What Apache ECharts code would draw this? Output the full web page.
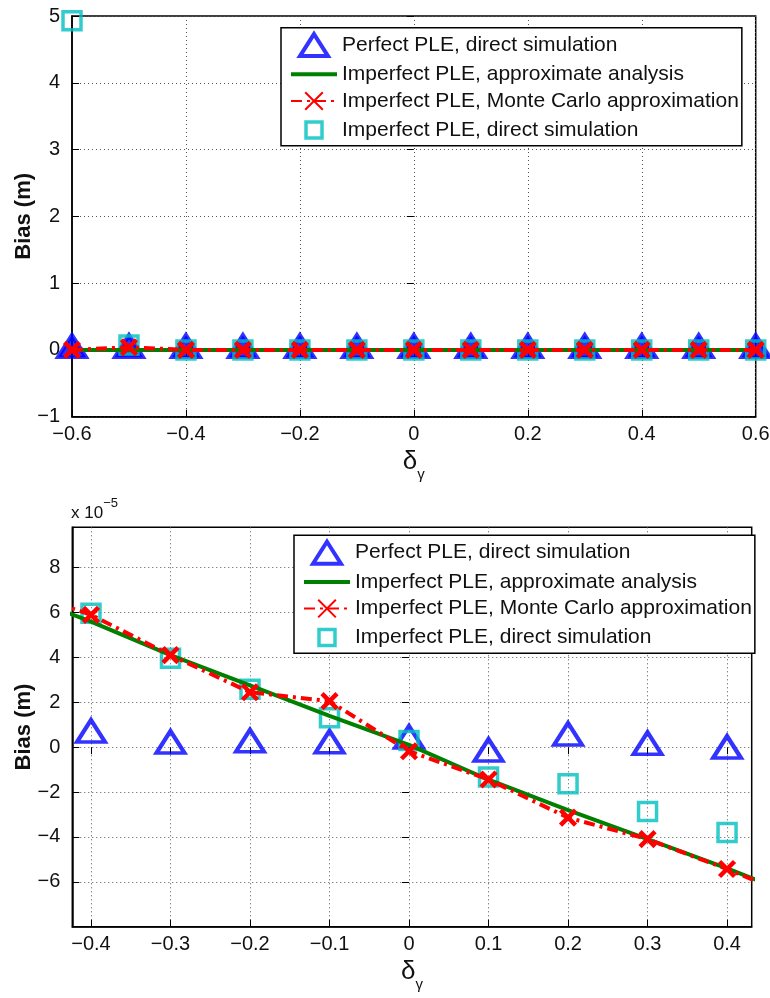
<!DOCTYPE html>
<html><head><meta charset="utf-8">
<script src="https://cdn.jsdelivr.net/npm/echarts@6/dist/echarts.min.js"></script>
<style>html,body{margin:0;padding:0;background:#fff}#c{width:770px;height:998px}</style>
</head><body><div id="c"></div>
<script>
// ---------- shared ----------
const seriesNames = [
  'Perfect PLE, direct simulation',
  'Imperfect PLE, approximate analysis',
  'Imperfect PLE, Monte Carlo approximation',
  'Imperfect PLE, direct simulation'
];

// ---------- top panel (Bias in m) ----------
const topX          = [-0.6, -0.5, -0.4, -0.3, -0.2, -0.1, 0, 0.1, 0.2, 0.3, 0.4, 0.5, 0.6];
const topPerfect    = [0, 0, 0, 0, 0, 0, 0, 0, 0, 0, 0, 0, 0];
const topAnalysis   = [0, 0, 0, 0, 0, 0, 0, 0, 0, 0, 0, 0, 0];
const topMonteCarlo = [0, 0.04, 0, 0, 0, 0, 0, 0, 0, 0, 0, 0, 0];
const topDirect     = [4.93, 0.075, 0, 0, 0, 0, 0, 0, 0, 0, 0, 0, 0];
const topXTicks = [-0.6, -0.4, -0.2, 0, 0.2, 0.4, 0.6];
const topYTicks = [-1, 0, 1, 2, 3, 4, 5];

// ---------- bottom panel (Bias in units of 1e-5 m) ----------
const botX          = [-0.4, -0.3, -0.2, -0.1, 0, 0.1, 0.2, 0.3, 0.4];
const botPerfect    = [0.56, 0.07, 0.12, 0.08, 0.29, -0.29, 0.42, 0.01, -0.16];
const botDirect     = [5.97, 3.96, 2.58, 1.31, 0.30, -1.33, -1.63, -2.87, -3.80];
const botLineX      = [-0.5, -0.4, -0.3, -0.2, -0.1, 0, 0.1, 0.2, 0.3, 0.4, 0.5];
const botAnalysis   = [6.95, 5.6, 4.1, 2.75, 1.4, 0.1, -1.45, -2.8, -4.1, -5.4, -6.8];
const botMonteCarlo = [7.1, 5.9, 4.1, 2.45, 2.05, -0.18, -1.44, -3.14, -4.1, -5.43, -6.9];
const botXTicks = [-0.4, -0.3, -0.2, -0.1, 0, 0.1, 0.2, 0.3, 0.4];
const botYTicks = [-6, -4, -2, 0, 2, 4, 6, 8];

const zip = (xs, ys) => xs.map((x, i) => [x, ys[i]]);
const FONT = 'Liberation Sans';
const fmt = v => (v < 0 ? '\u2212' : '') + Math.abs(v);

const TRI = 'path://M14,0 L28,22 L0,22 Z';
const XSYM = 'path://M0,0 L14,14 M14,0 L0,14';
const SQ_LEG = 'path://M0,0 M3,3 L19,3 L19,19 L3,19 Z M22,22';
const GREEN_LEG = 'path://M0,0 L46,0 L46,4 L0,4 Z';

function xAxes(grid, min, max, ticks) {
  return [{
    type: 'value', gridIndex: grid, min, max, position: 'bottom',
    axisLine: {show: true, onZero: false, lineStyle: {color: '#000', width: 1.5}},
    axisTick: {show: true, inside: true, length: 7, customValues: ticks, lineStyle: {color: '#000', width: 1}},
    axisLabel: {show: true, customValues: ticks, formatter: fmt, margin: 8, color: '#111', fontSize: 20, fontFamily: FONT,
      showMinLabel: true, showMaxLabel: true},
    splitLine: {show: true, lineStyle: {color: '#555', width: 1, type: [1, 3]}},
    name: '{d|\u03b4}{g|\u03b3}', nameLocation: 'middle', nameGap: 32, nameMoveOverlap: false,
    nameTextStyle: {rich: {
      d: {fontSize: 26, fontFamily: FONT, color: '#111', lineHeight: 26, verticalAlign: 'top'},
      g: {fontSize: 15, fontFamily: FONT, color: '#111', lineHeight: 15, verticalAlign: 'top', padding: [19, 0, 0, 0]}
    }}
  }, {
    type: 'value', gridIndex: grid, min, max, position: 'top',
    axisLine: {show: false},
    axisTick: {show: true, inside: true, length: 7, customValues: ticks, lineStyle: {color: '#000', width: 1}},
    axisLabel: {show: false}, splitLine: {show: false}
  }];
}
function yAxes(grid, min, max, ticks) {
  return [{
    type: 'value', gridIndex: grid, min, max, position: 'left',
    axisLine: {show: true, onZero: false, lineStyle: {color: '#000', width: 1.5}},
    axisTick: {show: true, inside: true, length: 7, customValues: ticks, lineStyle: {color: '#000', width: 1}},
    axisLabel: {show: true, customValues: ticks, formatter: fmt, margin: 12, color: '#111', fontSize: 20, fontFamily: FONT},
    splitLine: {show: true, lineStyle: {color: '#555', width: 1, type: [1, 3]}},
    name: 'Bias (m)', nameLocation: 'middle', nameGap: 37, nameRotate: 90, nameMoveOverlap: false,
    nameTextStyle: {fontSize: 22, fontWeight: 'bold', fontFamily: FONT, color: '#111'}
  }, {
    type: 'value', gridIndex: grid, min, max, position: 'right',
    axisLine: {show: false},
    axisTick: {show: true, inside: true, length: 7, customValues: ticks, lineStyle: {color: '#000', width: 1}},
    axisLabel: {show: false}, splitLine: {show: false}
  }];
}

function seriesFor(idx, px, perfect, lx, analysis, mx, mc, dx, direct, filledTri) {
  const xi = idx * 2, yi = idx * 2;
  return [{
    type: 'scatter', name: seriesNames[0], xAxisIndex: xi, yAxisIndex: yi,
    data: zip(px, perfect), symbol: TRI, symbolSize: [28, 22], symbolOffset: [0, -3.7],
    itemStyle: {color: filledTri ? '#0000ff' : 'rgba(255,255,255,0)', borderColor: '#0000ff', borderWidth: 4},
    emphasis: {disabled: true}, clip: true
  }, {
    type: 'line', name: seriesNames[1], xAxisIndex: xi, yAxisIndex: yi,
    data: zip(lx, analysis), symbol: 'none', itemStyle: {color: '#008000'},
    lineStyle: {color: '#008000', width: 4}, emphasis: {disabled: true}, clip: true
  }, {
    type: 'line', name: seriesNames[2], xAxisIndex: xi, yAxisIndex: yi,
    data: zip(mx, mc), symbol: XSYM, symbolSize: 15, showAllSymbol: true,
    itemStyle: {color: '#ff0000', borderColor: '#ff0000', borderWidth: 4.5},
    lineStyle: {color: '#ff0000', width: 4, type: [11, 5, 3, 5]}, emphasis: {disabled: true}, clip: true
  }, {
    type: 'scatter', name: seriesNames[3], xAxisIndex: xi, yAxisIndex: yi,
    data: zip(dx, direct), symbol: 'rect', symbolSize: 18,
    itemStyle: {color: 'rgba(255,255,255,0)', borderColor: '#00bfbf', borderWidth: 3.5},
    emphasis: {disabled: true}, clip: true
  }];
}

function legendAt(left, top) {
  return {
    show: true, orient: 'vertical', left, top,
    itemWidth: 46, itemHeight: 22, itemGap: 5.7,
    padding: [4.4, 3, 3, 9], borderColor: '#000', borderWidth: 1.5, backgroundColor: '#fff',
    selectedMode: false,
    textStyle: {fontSize: 21, fontFamily: FONT, color: '#111'},
    data: [
      {name: seriesNames[0], icon: TRI, itemStyle: {color: 'rgba(255,255,255,0)', borderColor: '#0000ff', borderWidth: 4}},
      {name: seriesNames[1], icon: GREEN_LEG, itemStyle: {color: '#008000', borderWidth: 0}},
      {name: seriesNames[2]},
      {name: seriesNames[3], icon: SQ_LEG, itemStyle: {color: 'rgba(255,255,255,0)', borderColor: '#00bfbf', borderWidth: 3.5}}
    ]
  };
}

const chart = echarts.init(document.getElementById('c'), null, {renderer: 'canvas'});
chart.setOption({
  animation: false,
  backgroundColor: '#fff',
  title: {
    text: '{a|x 10}{b|\u22125}', left: 71, top: 497, padding: 0,
    textStyle: {fontWeight: 'normal', rich: {
      a: {fontSize: 17, fontWeight: 'normal', fontFamily: FONT, color: '#111', verticalAlign: 'top', lineHeight: 17, padding: [8, 0, 0, 0]},
      b: {fontSize: 13, fontWeight: 'normal', fontFamily: FONT, color: '#111', verticalAlign: 'top', lineHeight: 13}
    }}
  },
  grid: [
    {left: 72, top: 16, width: 683.7, height: 400.7, show: true, borderColor: '#000', borderWidth: 1.5, backgroundColor: '#fff', outerBoundsMode: 'none', containLabel: false},
    {left: 72.3, top: 527.3, width: 679.4, height: 399.4, show: true, borderColor: '#000', borderWidth: 1.5, backgroundColor: '#fff', outerBoundsMode: 'none', containLabel: false}
  ],
  xAxis: [...xAxes(0, -0.6, 0.6, topXTicks), ...xAxes(1, -0.4235, 0.431, botXTicks)],
  yAxis: [...yAxes(0, -1, 5, topYTicks), ...yAxes(1, -8, 9.8, botYTicks)],
  legend: [legendAt(281, 27.7), legendAt(294, 535.3)],
  series: [
    ...seriesFor(0, topX, topPerfect, topX, topAnalysis, topX, topMonteCarlo, topX, topDirect, true),
    ...seriesFor(1, botX, botPerfect, botLineX, botAnalysis, botLineX, botMonteCarlo, botX, botDirect, false)
  ]
});
</script>
</body></html>
